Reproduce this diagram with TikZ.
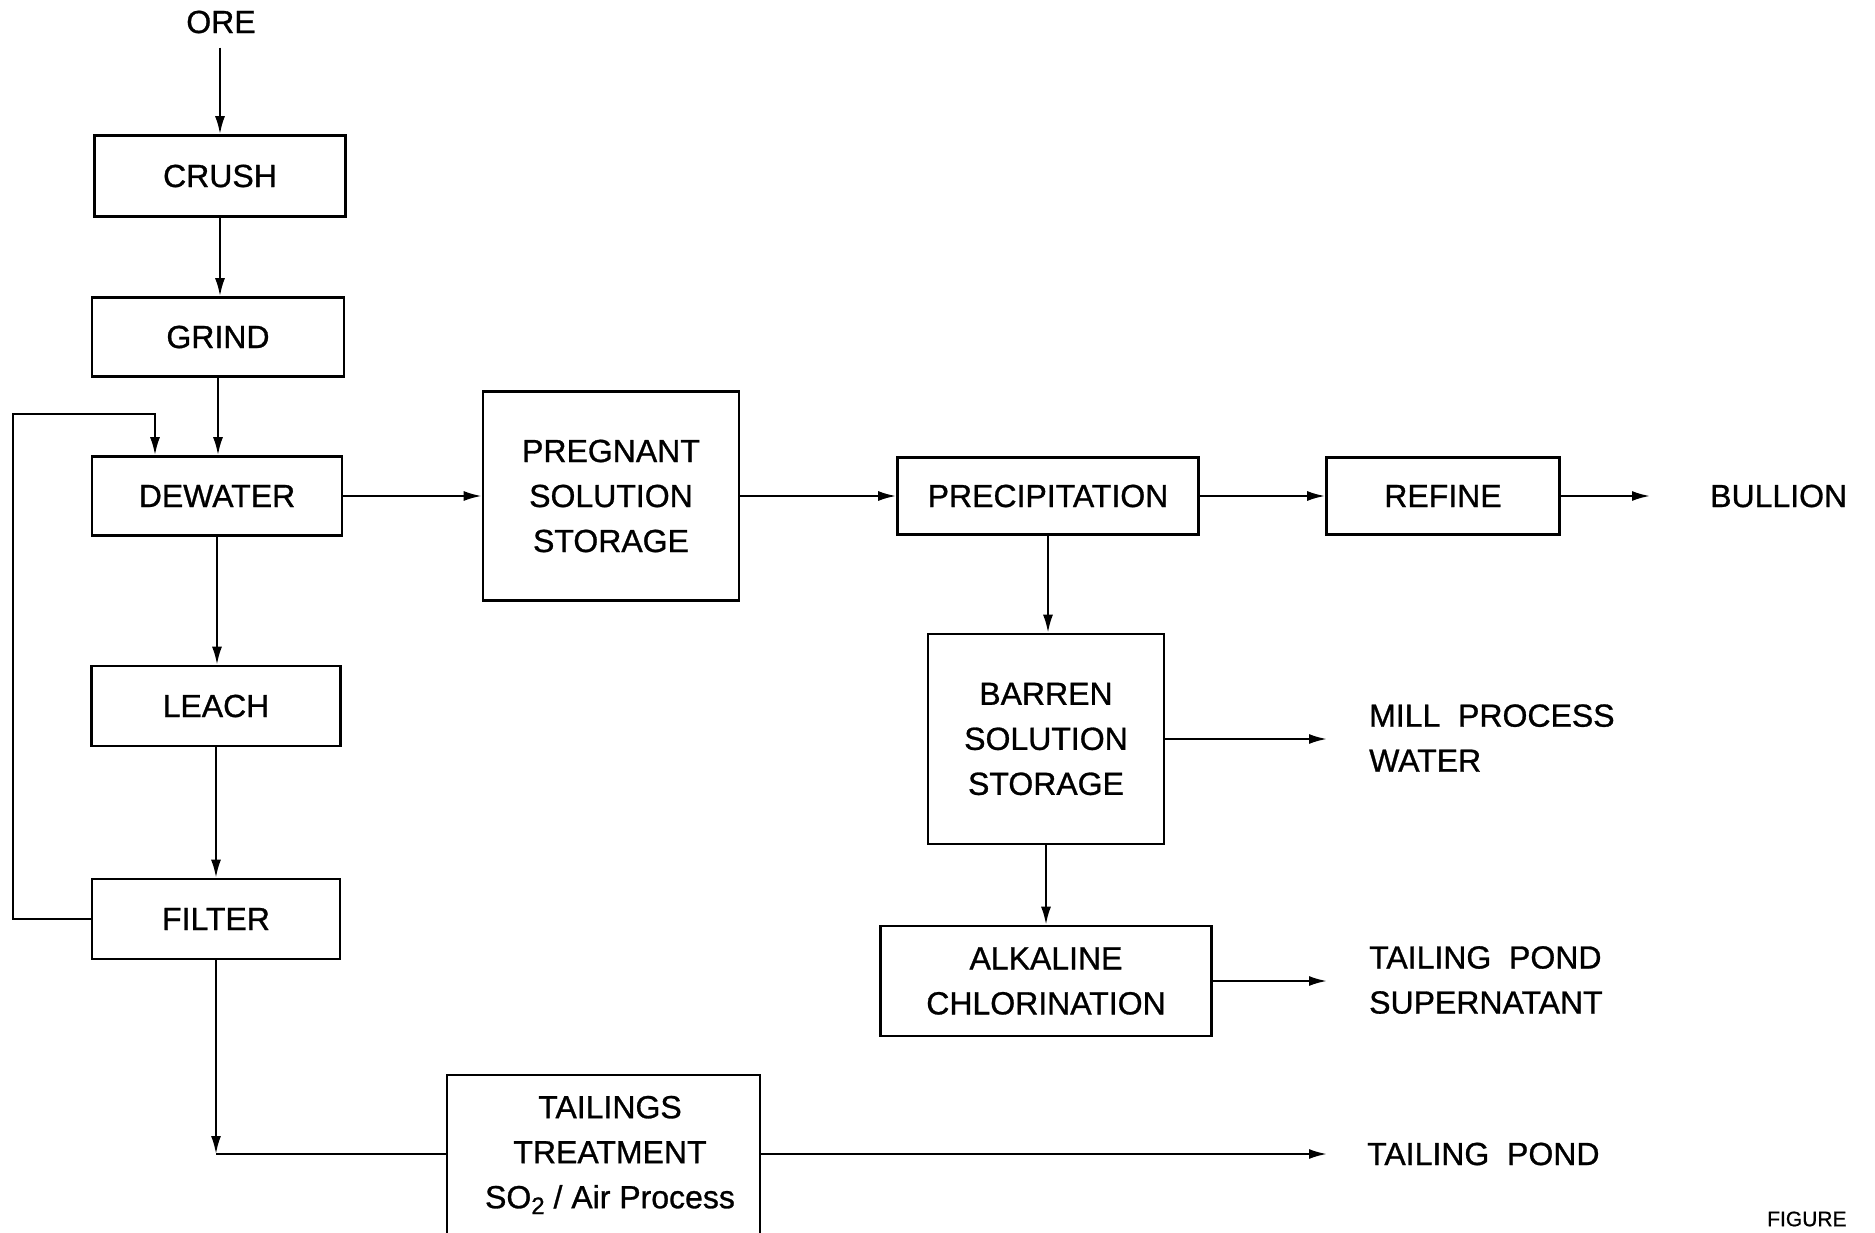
\documentclass[tikz,border=0pt]{standalone}
\usepackage{fontspec}
\setmainfont{Liberation Sans}
\newfontfamily\diagfam[FakeBold=0.9]{Liberation Sans}
\usetikzlibrary{arrows.meta}
\newcommand\diagfont{\diagfam\fontsize{32}{45}\selectfont}
\begin{document}
\begin{tikzpicture}[x=1pt,y=-1pt,
  box/.style={draw,line width=2.6pt,inner sep=0pt,align=center,font=\diagfont},
  lbl/.style={inner sep=0pt,align=center,font=\diagfont},
  arr/.style={line width=2.2pt,-{Latex[length=18pt,width=10pt]}},
  ln/.style={line width=2.2pt}]
\useasboundingbox (0,0) rectangle (1875,1233);
\clip (0,0) rectangle (1875,1233);
\fill[white] (0,0) rectangle (1875,1233);

% process boxes
\node[box,minimum width=251pt,minimum height=81pt] (crush) at (220,176) {CRUSH};
\node[box,minimum width=252pt,minimum height=79pt] (grind) at (218,337) {GRIND};
\node[box,minimum width=250pt,minimum height=79pt] (dewater) at (217,496) {DEWATER};
\node[box,minimum width=249pt,minimum height=80pt] (leach) at (216,706) {LEACH};
\node[box,minimum width=248pt,minimum height=80pt] (filter) at (216,919) {FILTER};
\node[box,minimum width=256pt,minimum height=209pt] (preg) at (611,496) {PREGNANT\\SOLUTION\\STORAGE};
\node[box,minimum width=301pt,minimum height=77pt] (precip) at (1048,496) {PRECIPITATION};
\node[box,minimum width=233pt,minimum height=77pt] (refine) at (1443,496) {REFINE};
\node[box,minimum width=236pt,minimum height=210pt] (barren) at (1046,739) {BARREN\\SOLUTION\\STORAGE};
\node[box,minimum width=331pt,minimum height=110pt] (alk) at (1046,981) {ALKALINE\\CHLORINATION};
\node[box,minimum width=313pt,minimum height=185pt] (tail) at (603.5,1167.5) {};
\node[lbl] (tailtxt) at (610,1155) {TAILINGS\\TREATMENT\\SO\raisebox{-0.35ex}{\fontsize{24}{28}\selectfont 2} / Air Process};

% free labels
\node[lbl] (ore) at (221,22) {ORE};
\node[lbl,anchor=west] (bullion) at (1710,496) {BULLION};
\node[lbl,anchor=west,align=left] (mill) at (1369,738) {MILL\ \ PROCESS\\WATER};
\node[lbl,anchor=west,align=left] (sup) at (1369,980) {TAILING\ \ POND\\SUPERNATANT};
\node[lbl,anchor=west] (pond) at (1367,1154) {TAILING\ \ POND};
\node[inner sep=0pt,anchor=west,font={\diagfam\fontsize{21}{25}\selectfont}] (fig) at (1767,1219) {FIGURE};

% free arrow ends
\coordinate (orebot) at ([yshift=-14pt]ore.south);
\coordinate (bt) at (1650,496);
\coordinate (mt) at (1327,738);
\coordinate (st) at (1327,978);
\coordinate (pt) at (1327,1154);
\coordinate (fbl) at (13,414);
\coordinate (tc) at (filter.south |- pond);

% connectors
\draw[arr] (orebot -| crush.north) -- (crush.north);
\draw[arr] (crush.south) -- (crush.south |- grind.north);
\draw[arr] (grind.south) -- (grind.south |- dewater.north);
\draw[arr] (dewater.south) -- (dewater.south |- leach.north);
\draw[arr] (leach.south) -- (leach.south |- filter.north);
\draw[arr] (filter.west) -| (fbl) -| ([xshift=-62pt]dewater.north);
\draw[arr] (filter.south) -- (tc);
\draw[ln] (tc) -- (tc -| tail.west);
\draw[arr] (dewater.east) -- (preg.west);
\draw[arr] (preg.east) -- (precip.west);
\draw[arr] (precip.east) -- (refine.west);
\draw[arr] (refine.east) -- (bt);
\draw[arr] (precip.south) -- (precip.south |- barren.north);
\draw[arr] (barren.south) -- (barren.south |- alk.north);
\draw[arr] (barren.east) -- (barren.east -| mt);
\draw[arr] (alk.east) -- (alk.east -| st);
\draw[arr] (pond -| tail.east) -- (pt);
\end{tikzpicture}
\end{document}
